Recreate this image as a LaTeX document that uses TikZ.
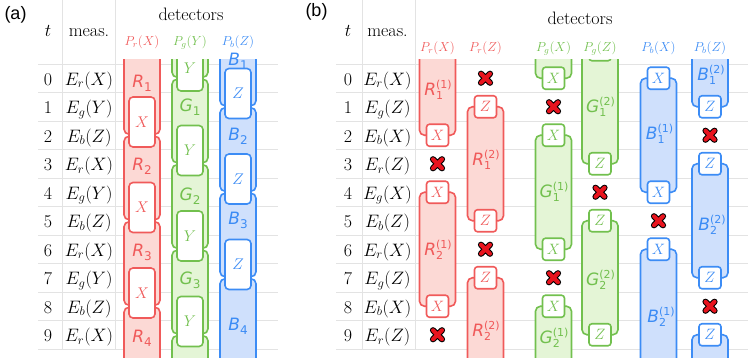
\RequirePackage{fix-cm}
\documentclass[tikz,border=0pt]{standalone}
\usepackage{fontspec}
\newfontfamily\dv{DejaVu Sans}
\newfontfamily\lsans{Liberation Sans}
\definecolor{rS}{HTML}{F05A5A}
\definecolor{rF}{HTML}{FCD9D5}
\definecolor{gS}{HTML}{72C04E}
\definecolor{gF}{HTML}{E4F5D6}
\definecolor{bS}{HTML}{3C8CF5}
\definecolor{bF}{HTML}{CFE0FC}
\definecolor{gridc}{HTML}{E3E3E3}
\definecolor{xred}{HTML}{E8141E}
\newcommand\lab[2]{{\dv\fontsize{17}{17}\selectfont\itshape #1\upshape\raisebox{-4pt}{\fontsize{12}{12}\selectfont #2}}}
\newcommand\labb[3]{{\dv\fontsize{17}{17}\selectfont\itshape #1\upshape\rlap{\raisebox{-4pt}{\fontsize{11}{11}\selectfont #2}}\raisebox{7pt}{\fontsize{11}{11}\selectfont(#3)}}}
\tikzset{
 gridl/.style={draw=gridc, line width=0.9pt},
 det/.style={draw=#1S, fill=#1F, line width=1.6pt, rounded corners=5pt},
 abox/.style={draw=#1S, fill=white, line width=1.6pt, rounded corners=4pt, minimum width=26pt, minimum height=50pt, inner sep=0pt, text=#1S, font=\fontsize{15.5}{15.5}\selectfont},
 bbox/.style={draw=#1S, fill=white, line width=1.6pt, rounded corners=3pt, minimum width=22pt, minimum height=22pt, inner sep=0pt, text=#1S, font=\fontsize{15}{15}\selectfont},
 lbl/.style={text=#1S, anchor=base, inner sep=0pt},
 hdr/.style={text=#1S, anchor=base, inner sep=0pt, font=\fontsize{13}{13}\selectfont},
 tx/.style={anchor=base, inner sep=0pt, font=\fontsize{18}{18}\selectfont},
 xmark/.pic={
   \draw[black, line width=6.2pt, line cap=round] (-4.5,-4.5) -- (4.5,4.5) (-4.5,4.5) -- (4.5,-4.5);
   \draw[xred, line width=4pt, line cap=round] (-4.5,-4.5) -- (4.5,4.5) (-4.5,4.5) -- (4.5,-4.5);
 }
}
\begin{document}
\begin{tikzpicture}[x=1pt,y=-1pt]
\useasboundingbox (0,0) rectangle (748,358);
% ---------- grid ----------
\foreach \k in {0,...,10}{
  \draw[gridl] (38,{64+28.5*\k}) -- (278,{64+28.5*\k});
  \draw[gridl] (336,{64+28.5*\k}) -- (748,{64+28.5*\k});
}
\foreach \x in {62,115,362,415}{
  \draw[gridl] (\x,0) -- (\x,349);
}
% ---------- panel labels & headers ----------
\node[font=\lsans\fontsize{18}{18}\selectfont, inner sep=0pt] (pa) at (15.5,15) {(a)};
\node[font=\lsans\fontsize{18}{18}\selectfont, inner sep=0pt] (pb) at (316.5,12) {(b)};
\node[tx] (at) at (48,36.5) {$t$};
\node[tx] (am) at (89,36.5) {meas.};
\node[tx] (adet) at (191,21) {detectors};
\node[tx] (bt) at (348,36.5) {$t$};
\node[tx] (bm) at (387.5,36.5) {meas.};
\node[tx] (bdet) at (580,25) {detectors};
\node[hdr=r] (ahr) at (142,46) {$P_r(X)$};
\node[hdr=g] (ahg) at (190,46) {$P_g(Y)$};
\node[hdr=b] (ahb) at (238,46) {$P_b(Z)$};
\node[hdr=r] (bh1) at (437.5,52) {$P_r(X)$};
\node[hdr=r] (bh2) at (485.5,52) {$P_r(Z)$};
\node[hdr=g] (bh3) at (553.5,52) {$P_g(X)$};
\node[hdr=g] (bh4) at (600,52) {$P_g(Z)$};
\node[hdr=b] (bh5) at (658.5,52) {$P_b(X)$};
\node[hdr=b] (bh6) at (710,52) {$P_b(Z)$};
% ---------- rows ----------
\foreach \t/\m in {0/{E_r(X)},1/{E_g(Y)},2/{E_b(Z)},3/{E_r(X)},4/{E_g(Y)},5/{E_b(Z)},6/{E_r(X)},7/{E_g(Y)},8/{E_b(Z)},9/{E_r(X)}}{
  \node[tx] (ar\t) at (48,{85.25+28.5*\t}) {$\t$};
  \node[tx] (ae\t) at (89,{85.25+28.5*\t}) {$\m$};
}
\foreach \t/\m in {0/{E_r(X)},1/{E_g(Z)},2/{E_b(X)},3/{E_r(Z)},4/{E_g(X)},5/{E_b(Z)},6/{E_r(X)},7/{E_g(Z)},8/{E_b(X)},9/{E_r(Z)}}{
  \node[tx] (br\t) at (348,{85.25+28.5*\t}) {$\t$};
  \node[tx] (be\t) at (387.5,{85.25+28.5*\t}) {$\m$};
}
% ---------- detector columns ----------
\begin{scope}
\clip (0,59.5) rectangle (748,358);
% (a) red
\draw[det=r] (124,-100) rectangle (160,134.25);
\draw[det=r] (124,136.25) rectangle (160,219.75);
\draw[det=r] (124,221.75) rectangle (160,305.25);
\draw[det=r] (124,307.25) rectangle (160,420);
\node[abox=r] (ax1) at (142,122) {$X$};
\node[abox=r] (ax2) at (142,207.5) {$X$};
\node[abox=r] (ax3) at (142,293) {$X$};
% (a) green
\draw[det=g] (172,-100) rectangle (208,77.25);
\draw[det=g] (172,79.25) rectangle (208,162.75);
\draw[det=g] (172,164.75) rectangle (208,248.25);
\draw[det=g] (172,250.25) rectangle (208,333.75);
\draw[det=g] (172,335.75) rectangle (208,420);
\node[abox=g] (ay0) at (190,66) {};
\node[text=gS, font=\fontsize{15.5}{15.5}\selectfont, inner sep=0pt] (ay0t) at (190,68) {$Y$};
\node[abox=g] (ay1) at (190,150.5) {$Y$};
\node[abox=g] (ay2) at (190,236) {$Y$};
\node[abox=g] (ay3) at (190,321.5) {$Y$};
% (a) blue
\draw[det=b] (220,-100) rectangle (256,105.75);
\draw[det=b] (220,107.75) rectangle (256,191.25);
\draw[det=b] (220,193.25) rectangle (256,276.75);
\draw[det=b] (220,278.75) rectangle (256,420);
\node[abox=b] (az1) at (238,93.5) {$Z$};
\node[abox=b] (az2) at (238,179) {$Z$};
\node[abox=b] (az3) at (238,264.5) {$Z$};
% (b) P_r(X)
\draw[det=r] (419.5,-100) rectangle (455.5,135.25);
\draw[det=r] (419.5,192.25) rectangle (455.5,306.25);
\node[bbox=r] (b1a) at (437.5,135.25) {$X$};
\node[bbox=r] (b1b) at (437.5,192.25) {$X$};
\node[bbox=r] (b1c) at (437.5,306.25) {$X$};
% (b) P_r(Z)
\draw[det=r] (467.5,106.75) rectangle (503.5,220.75);
\draw[det=r] (467.5,277.75) rectangle (503.5,420);
\node[bbox=r] (b2a) at (485.5,106.75) {$Z$};
\node[bbox=r] (b2b) at (485.5,220.75) {$Z$};
\node[bbox=r] (b2c) at (485.5,277.75) {$Z$};
% (b) P_g(X)
\draw[det=g] (535.5,-100) rectangle (571.5,78.25);
\draw[det=g] (535.5,135.25) rectangle (571.5,249.25);
\draw[det=g] (535.5,306.25) rectangle (571.5,420);
\node[bbox=g] (b3a) at (553.5,78.25) {$X$};
\node[bbox=g] (b3b) at (553.5,135.25) {$X$};
\node[bbox=g] (b3c) at (553.5,249.25) {$X$};
\node[bbox=g] (b3d) at (553.5,306.25) {$X$};
% (b) P_g(Z)
\draw[det=g] (582,49.75) rectangle (618,163.75);
\draw[det=g] (582,220.75) rectangle (618,334.75);
\node[bbox=g] (b4a) at (600,49.75) {};
\node[bbox=g] (b4b) at (600,163.75) {$Z$};
\node[bbox=g] (b4c) at (600,220.75) {$Z$};
\node[bbox=g] (b4d) at (600,334.75) {$Z$};
% (b) P_b(X)
\draw[det=b] (640.5,78.25) rectangle (676.5,192.25);
\draw[det=b] (640.5,249.25) rectangle (676.5,420);
\node[bbox=b] (b5a) at (658.5,78.25) {$X$};
\node[bbox=b] (b5b) at (658.5,192.25) {$X$};
\node[bbox=b] (b5c) at (658.5,249.25) {$X$};
% (b) P_b(Z)
\draw[det=b] (692,-100) rectangle (728,106.75);
\draw[det=b] (692,163.75) rectangle (728,277.75);
\draw[det=b] (692,334.75) rectangle (728,420);
\node[bbox=b] (b6a) at (710,106.75) {$Z$};
\node[bbox=b] (b6b) at (710,163.75) {$Z$};
\node[bbox=b] (b6c) at (710,277.75) {$Z$};
\node[bbox=b] (b6d) at (710,334.75) {$Z$};
\end{scope}
% ---------- detector labels (a) ----------
\node[lbl=r] (lR1) at (142,88) {\lab{R}{1}};
\node[lbl=r] (lR2) at (142,171) {\lab{R}{2}};
\node[lbl=r] (lR3) at (142,257) {\lab{R}{3}};
\node[lbl=r] (lR4) at (142,343) {\lab{R}{4}};
\node[lbl=g] (lG1) at (190,112) {\lab{G}{1}};
\node[lbl=g] (lG2) at (190,201) {\lab{G}{2}};
\node[lbl=g] (lG3) at (190,284.5) {\lab{G}{3}};
\node[lbl=b] (lB1) at (238,66) {\lab{B}{1}};
\node[lbl=b] (lB2) at (238,141) {\lab{B}{2}};
\node[lbl=b] (lB3) at (238,225) {\lab{B}{3}};
\node[lbl=b] (lB4) at (238,330.5) {\lab{B}{4}};
% ---------- detector labels (b) ----------
\node[lbl=r] (mR11) at (438,96) {\labb{R}{1}{1}};
\node[lbl=r] (mR12) at (486,166) {\labb{R}{1}{2}};
\node[lbl=r] (mR21) at (438,255.5) {\labb{R}{2}{1}};
\node[lbl=r] (mR22) at (486,337) {\labb{R}{2}{2}};
\node[lbl=g] (mG11) at (554,197.5) {\labb{G}{1}{1}};
\node[lbl=g] (mG21) at (554,343.5) {\labb{G}{2}{1}};
\node[lbl=g] (mG12) at (600.5,112.5) {\labb{G}{1}{2}};
\node[lbl=g] (mG22) at (600.5,286) {\labb{G}{2}{2}};
\node[lbl=b] (mB11) at (659.5,139.5) {\labb{B}{1}{1}};
\node[lbl=b] (mB21) at (661,322.5) {\labb{B}{2}{1}};
\node[lbl=b] (mB12) at (711,81) {\labb{B}{1}{2}};
\node[lbl=b] (mB22) at (712,231) {\labb{B}{2}{2}};
% ---------- crosses ----------
\pic (xa) at (437.5,163.75) {xmark};
\pic (xb) at (437.5,334.75) {xmark};
\pic (xc) at (485.5,78.25) {xmark};
\pic (xd) at (485.5,249.25) {xmark};
\pic (xe) at (553.5,106.75) {xmark};
\pic (xf) at (553.5,277.75) {xmark};
\pic (xg) at (600,192.25) {xmark};
\pic (xh) at (658.5,220.75) {xmark};
\pic (xi) at (710,135.25) {xmark};
\pic (xj) at (710,306.25) {xmark};
\end{tikzpicture}
\end{document}
